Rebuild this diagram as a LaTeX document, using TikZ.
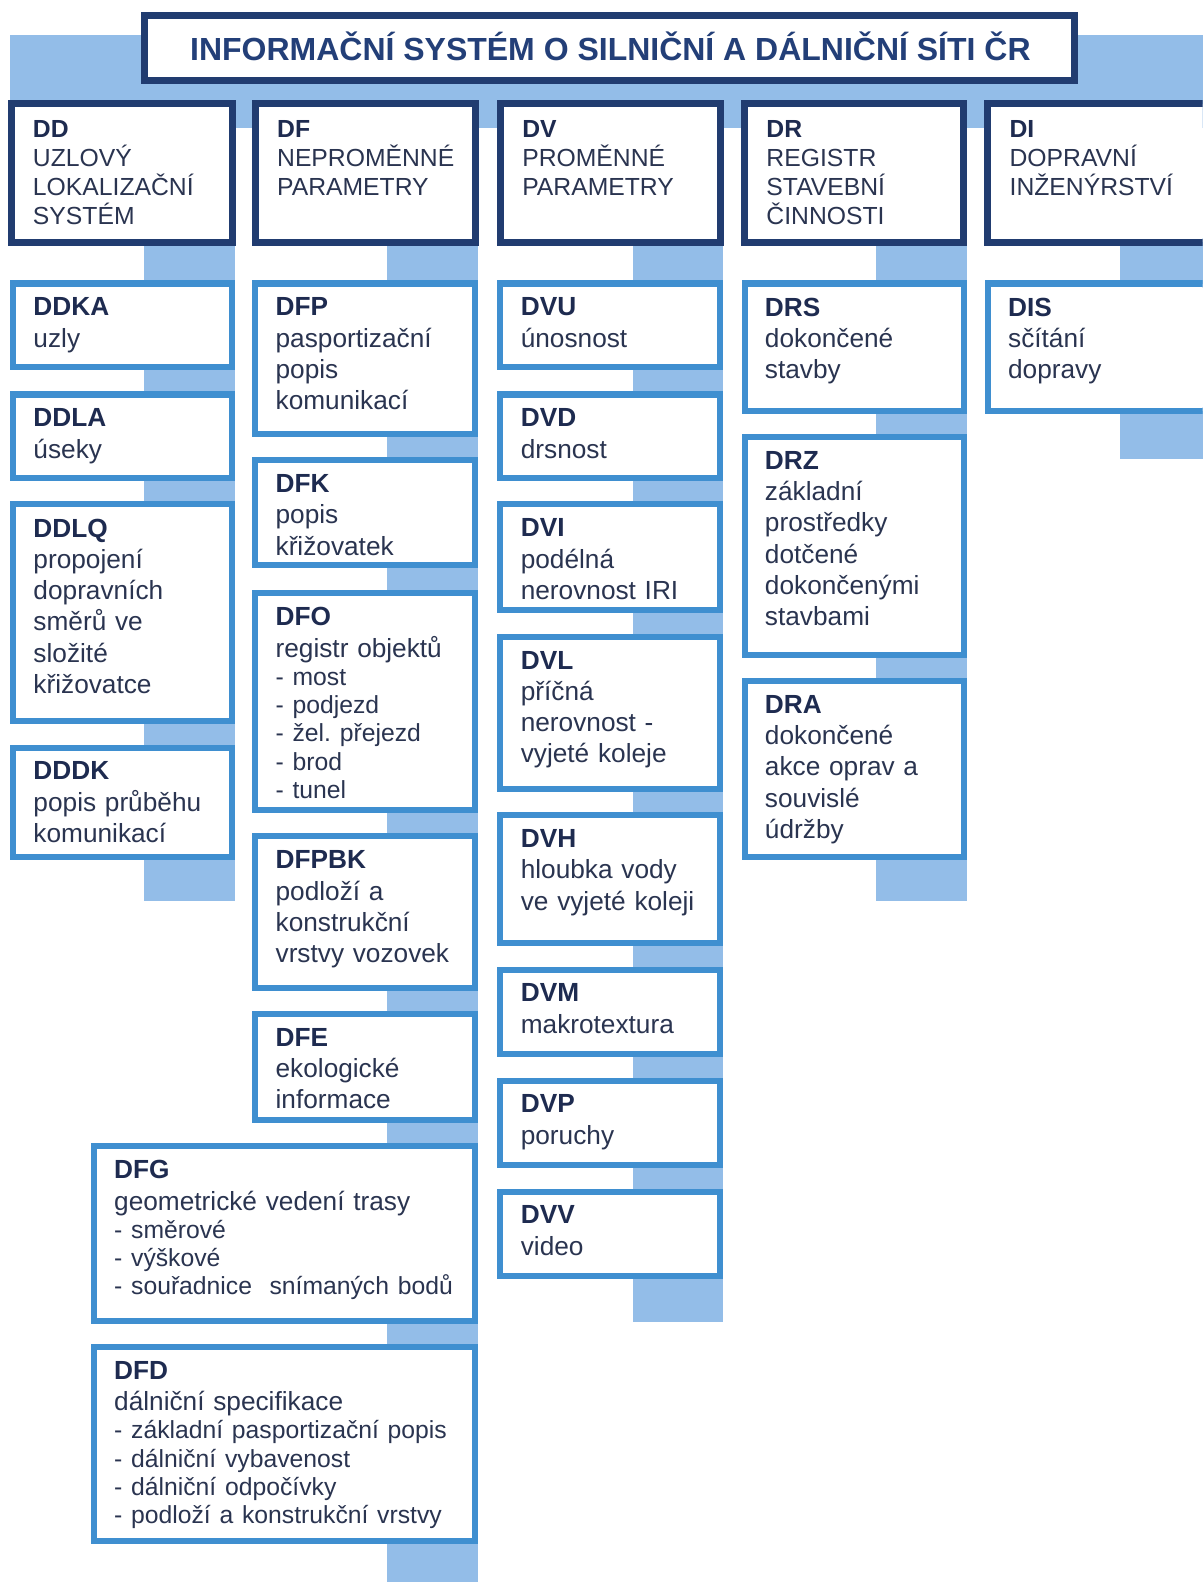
\documentclass[tikz,border=0pt]{standalone}
\usepackage{fontspec}
\setmainfont{Liberation Sans}
\usetikzlibrary{calc}

\definecolor{navy}{HTML}{213C70}
\definecolor{midblue}{HTML}{3F8FD0}
\definecolor{pale}{HTML}{93BDE8}
\definecolor{ink}{HTML}{2A3450}
\definecolor{inkb}{HTML}{1E2B50}
\definecolor{headink}{HTML}{233F78}

\pgfdeclarelayer{paper}
\pgfdeclarelayer{bg}
\pgfsetlayers{paper,bg,main}

% code line (bold) and indented list lines inside the panels
\newcommand\code[1]{{\bfseries\color{inkb}#1}\par}
\newcommand\listline[1]{{\fontsize{24.5}{28}\selectfont - #1\par}}

% a framed panel given by its outer edges, plus its text block
\newcommand\panel[8]{%
  \pgfmathsetmacro\pw{#5-#3-6}%
  \pgfmathsetmacro\ph{#6-#4-6}%
  \node[#2, minimum width=\pw pt, minimum height=\ph pt, anchor=north west] (#1) at (#3+3,#4+3) {};
  \node[#7] (#1-t) at ($(#1.north west)+(20,14)$) {#8};
}

\tikzset{
  x=1pt, y=-1pt,
  headbox/.style={draw=navy, line width=7pt, fill=white, inner sep=0pt, outer sep=0pt},
  mainbox/.style={draw=navy, line width=7pt, fill=white, inner sep=0pt, outer sep=0pt},
  subbox/.style={draw=midblue, line width=6pt, fill=white, inner sep=0pt, outer sep=0pt},
  link/.style={fill=pale},
  maintext/.style={anchor=north west, inner sep=0pt, xshift=1.5pt, yshift=-2.5pt,
    text width=200pt, align=left, text=ink, font=\frenchspacing\fontsize{24.5}{28.5}\selectfont},
  subtext/.style={anchor=north west, inner sep=0pt, text width=200pt, align=left,
    text=ink, font=\frenchspacing\fontsize{26}{31}\selectfont},
  widetext/.style={subtext, text width=360pt},
}

\begin{document}
\begin{tikzpicture}
\useasboundingbox (0,0) rectangle (1192,1568);
\clip (0,0) rectangle (1192,1568);

% title
\panel{title}{headbox}{140}{12}{1068}{83}{maintext}{}
\node[anchor=base, inner sep=0pt, text=headink, font=\fontsize{31.7}{36}\selectfont\bfseries]
  (title-h) at (605,60) {INFORMAČNÍ SYSTÉM O SILNIČNÍ A DÁLNIČNÍ SÍTI ČR};

% top level
\panel{DD}{mainbox}{8}{100}{233}{243}{maintext}{\code{DD}UZLOVÝ\par LOKALIZAČNÍ\par SYSTÉM}
\panel{DF}{mainbox}{250}{100}{474}{243}{maintext}{\code{DF}NEPROMĚNNÉ\par PARAMETRY}
\panel{DV}{mainbox}{493}{100}{717}{243}{maintext}{\code{DV}PROMĚNNÉ\par PARAMETRY}
\panel{DR}{mainbox}{735}{100}{958}{243}{maintext}{\code{DR}REGISTR\par STAVEBNÍ\par ČINNOSTI}
\panel{DI}{mainbox}{976}{100}{1200}{243}{maintext}{\code{DI}DOPRAVNÍ\par INŽENÝRSTVÍ}

% DD column
\panel{DDKA}{subbox}{10}{278}{233}{367}{subtext}{\code{DDKA}uzly}
\panel{DDLA}{subbox}{10}{388}{233}{477}{subtext}{\code{DDLA}úseky}
\panel{DDLQ}{subbox}{10}{497}{233}{718}{subtext}{\code{DDLQ}propojení\par dopravních\par směrů ve\par složité\par křižovatce}
\panel{DDDK}{subbox}{10}{738}{233}{852}{subtext}{\code{DDDK}popis průběhu\par komunikací}

% DF column
\panel{DFP}{subbox}{250}{278}{474}{433}{subtext}{\code{DFP}pasportizační\par popis\par komunikací}
\panel{DFK}{subbox}{250}{453}{474}{563}{subtext}{\code{DFK}popis\par křižovatek}
\panel{DFO}{subbox}{250}{585}{474}{806}{subtext}{\code{DFO}registr objektů\par
  \listline{most}\listline{podjezd}\listline{žel. přejezd}\listline{brod}\listline{tunel}}
\panel{DFPBK}{subbox}{250}{826}{474}{982}{subtext}{\code{DFPBK}podloží a\par konstrukční\par vrstvy vozovek}
\panel{DFE}{subbox}{250}{1002}{474}{1113}{subtext}{\code{DFE}ekologické\par informace}
\panel{DFG}{subbox}{90}{1133}{474}{1312}{widetext}{\code{DFG}geometrické vedení trasy\par
  \listline{směrové}\listline{výškové}\listline{souřadnice\ \ snímaných bodů}}
\panel{DFD}{subbox}{90}{1332}{474}{1530}{widetext}{\code{DFD}dálniční specifikace\par
  \listline{základní pasportizační popis}\listline{dálniční vybavenost}%
  \listline{dálniční odpočívky}\listline{podloží a konstrukční vrstvy}}

% DV column
\panel{DVU}{subbox}{493}{278}{717}{367}{subtext}{\code{DVU}únosnost}
\panel{DVD}{subbox}{493}{388}{717}{477}{subtext}{\code{DVD}drsnost}
\panel{DVI}{subbox}{493}{497}{717}{608}{subtext}{\code{DVI}podélná\par nerovnost IRI}
\panel{DVL}{subbox}{493}{628}{717}{785}{subtext}{\code{DVL}příčná\par nerovnost -\par vyjeté koleje}
\panel{DVH}{subbox}{493}{805}{717}{938}{subtext}{\code{DVH}hloubka vody\par ve vyjeté koleji}
\panel{DVM}{subbox}{493}{958}{717}{1048}{subtext}{\code{DVM}makrotextura}
\panel{DVP}{subbox}{493}{1068}{717}{1158}{subtext}{\code{DVP}poruchy}
\panel{DVV}{subbox}{493}{1178}{717}{1268}{subtext}{\code{DVV}video}

% DR column
\panel{DRS}{subbox}{735}{278}{958}{410}{subtext}{\code{DRS}dokončené\par stavby}
\panel{DRZ}{subbox}{735}{430}{958}{652}{subtext}{\code{DRZ}základní\par prostředky\par dotčené\par dokončenými\par stavbami}
\panel{DRA}{subbox}{735}{672}{958}{852}{subtext}{\code{DRA}dokončené\par akce oprav a\par souvislé\par údržby}

% DI column
\panel{DIS}{subbox}{976}{278}{1200}{410}{subtext}{\code{DIS}sčítání\par dopravy}

% open ends of the column bars
\coordinate (DD-end) at (233,893);
\coordinate (DF-end) at (474,1568);
\coordinate (DV-end) at (717,1310);
\coordinate (DR-end) at (958,893);
\coordinate (DI-end) at (1200,455);

% white paper
\begin{pgfonlayer}{paper}
  \fill[white] (0,0) rectangle (1192,1568);
\end{pgfonlayer}

% pale connector bars behind the panels
\begin{pgfonlayer}{bg}
  \fill[link] (10,35) rectangle (1200,127);
  \foreach \a/\b in {DD/DDKA, DDKA/DDLA, DDLA/DDLQ, DDLQ/DDDK,
                     DF/DFP, DFP/DFK, DFK/DFO, DFO/DFPBK, DFPBK/DFE, DFE/DFG, DFG/DFD,
                     DV/DVU, DVU/DVD, DVD/DVI, DVI/DVL, DVL/DVH, DVH/DVM, DVM/DVP, DVP/DVV,
                     DR/DRS, DRS/DRZ, DRZ/DRA,
                     DI/DIS}
    \fill[link] ($(\a.south east)+(-87,-4)$) rectangle ($(\b.north east)+(3,4)$);
  \foreach \a/\b in {DDDK/DD-end, DFD/DF-end, DVV/DV-end, DRA/DR-end, DIS/DI-end}
    \fill[link] ($(\a.south east)+(-87,-4)$) rectangle (\b);
\end{pgfonlayer}
\end{tikzpicture}
\end{document}
